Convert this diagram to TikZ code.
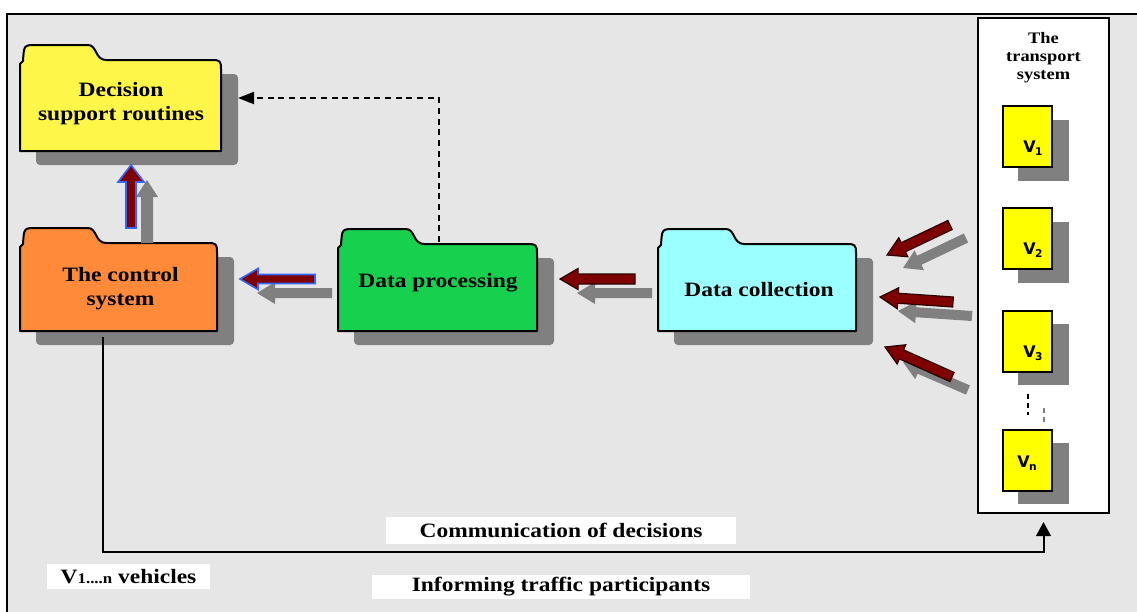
\documentclass[tikz,border=0pt]{standalone}
\usepackage{fontspec}
\usetikzlibrary{calc,arrows.meta}
\newfontfamily\lbl{Liberation Serif}[FakeStretch=1.15]
\newfontfamily\vfont{DejaVu Sans}
\definecolor{bgc}{HTML}{E6E6E6}
\definecolor{shd}{HTML}{808080}
\definecolor{ared}{HTML}{7F0000}
\definecolor{ablue}{HTML}{3366FF}
\definecolor{adark}{HTML}{2A0000}
\definecolor{vyel}{HTML}{FFFF00}
\definecolor{fin}{HTML}{FFFFFF}
\definecolor{fout}{HTML}{FFFFFF}
\pgfdeclareradialshading[fin,fout]{foldshade}{\pgfpoint{0bp}{0bp}}{color(0bp)=(fin); color(33bp)=(fin); color(50bp)=(fout); color(80bp)=(fout)}
\newcommand\pxl[1]{#1*0.75pt}
% folder drawn around an (invisible) body node
\newcommand\folder[3]{%
  \fill[shd, rounded corners=3pt] ($(#1.north west)+(16,14)$) rectangle ($(#1.south east)+(17,14)$);
  \definecolor{fin}{HTML}{#2}\definecolor{fout}{HTML}{#3}%
  \shadedraw[shading=foldshade, line width=1.5pt, line join=round]
    (#1.south west) -- ($(#1.north west)+(0,4)$) -- ($(#1.north west)+(3,1)$)
    .. controls ($(#1.north west)+(4,-15)$) .. ($(#1.north west)+(16,-15)$)
    -- ($(#1.north west)+(68,-15)$)
    .. controls ($(#1.north west)+(77,-15)$) and ($(#1.north west)+(75,0)$) .. ($(#1.north west)+(86,0)$)
    -- ($(#1.north east)+(-9,0)$)
    .. controls ($(#1.north east)+(-1,0)$) and ($(#1.north east)+(0,1)$) .. ($(#1.north east)+(0,9)$)
    -- (#1.south east) -- cycle;
}
% block arrow: #1 style, #2 tail, #3 tip, #4 shaft half, #5 head half, #6 head length (px)
\newcommand\blockarrow[6]{%
  \path[#1] let \p1=(#2), \p2=(#3), \n1={atan2(\y2-\y1,\x2-\x1)}, \n2={veclen(\x2-\x1,\y2-\y1)} in
    [shift={(\p1)}, rotate=\n1]
    (0pt,{-#4*0.75pt}) -- ({\n2*1pt-#6*0.75pt},{-#4*0.75pt}) -- ({\n2*1pt-#6*0.75pt},{-#5*0.75pt})
    -- ({\n2*1pt},0pt) -- ({\n2*1pt-#6*0.75pt},{#5*0.75pt}) -- ({\n2*1pt-#6*0.75pt},{#4*0.75pt})
    -- (0pt,{#4*0.75pt}) -- cycle;
}
\newcommand\vsub[1]{\kern-0.5pt\raisebox{-0.2em}{\fontsize{8}{9}\selectfont #1}}
\tikzset{
  fbody/.style={inner sep=0pt, outer sep=0pt},
  ftxt/.style={font=\lbl\bfseries\fontsize{15.3}{18}\selectfont, align=center, inner sep=0pt},
  lbox/.style={fill=white, inner sep=0pt, font=\lbl\bfseries\fontsize{15.3}{18}\selectfont},
  vbox/.style={draw, line width=1.5pt, fill=vyel, inner sep=0pt, minimum width=\pxl{49}, minimum height=\pxl{61}},
  vtxt/.style={font=\vfont\bfseries\fontsize{12}{14}\selectfont, inner sep=0pt},
  redblue/.style={fill=ared, draw=ablue, line width=1.2pt, line join=miter},
  reddark/.style={fill=ared, draw=adark, line width=0.9pt, line join=miter},
  grayarr/.style={fill=shd},
}
\begin{document}
\begin{tikzpicture}[x=0.75pt,y=-0.75pt]
\useasboundingbox (0,0) rectangle (1137,611);
\fill[white] (0,0) rectangle (1137,611);
\begin{scope}
  \clip (0,0) rectangle (1137,611);
  \draw[line width=1.5pt, fill=bgc] (7,14) rectangle (1170,640);
\end{scope}

% folder bodies
\node[fbody, minimum width=\pxl{201}, minimum height=\pxl{91}] (dsr) at (120.5,105.5) {};
\node[fbody, minimum width=\pxl{197}, minimum height=\pxl{88}] (ctrl) at (118.5,287) {};
\node[fbody, minimum width=\pxl{199}, minimum height=\pxl{87}] (dp) at (437.5,287.5) {};
\node[fbody, minimum width=\pxl{198}, minimum height=\pxl{87}] (dc) at (757,287.5) {};

\folder{dsr}{FFF64A}{FFFF00}
\folder{ctrl}{FF8A3A}{FF7414}
\folder{dp}{16D04E}{00FF00}
\folder{dc}{9CFFFF}{00FFFF}

\node[ftxt] (dsrt) at (121,104) {Decision\\support routines};
\node[ftxt] (ctrlt) at (120.5,289) {The control\\system};
\node[ftxt] (dpt) at (438,283) {Data processing};
\node[ftxt] (dct) at (759,290) {Data collection};

% transport system
\node[draw, line width=1.5pt, fill=white, inner sep=0pt, minimum width=\pxl{131}, minimum height=\pxl{495}] (ts) at (1043.5,265.5) {};
\node[font=\lbl\bfseries\fontsize{12}{13.5}\selectfont, align=center, inner sep=0pt] (tst) at (1043.5,58) {The\\transport\\system};

\foreach \n/\yc in {v1/136.5, v2/238.5, v3/341, vn/460}{
  \fill[shd] (1018,\yc-31+14) rectangle (1069,\yc+30+14);
}
\node[vbox] (v1) at (1027.5,136.5) {};
\node[vbox] (v2) at (1027.5,238.5) {};
\node[vbox] (v3) at (1027.5,341) {};
\node[vbox] (vn) at (1027.5,460) {};
\node[vtxt] (v1t) at (1033,148) {V\vsub{1}};
\node[vtxt] (v2t) at (1033,250) {V\vsub{2}};
\node[vtxt] (v3t) at (1033,353) {V\vsub{3}};
\node[vtxt] (vnt) at (1027,463) {V\vsub{n}};
\draw[line width=1.5pt, dash pattern=on 4pt off 3pt] ($(v3.south)+(0,21)$) -- ($(vn.north)+(0,-14)$);
\draw[shd, line width=1.5pt, dash pattern=on 4pt off 3pt] ($(v3.south)+(16,35)$) -- ($(vn.north)+(16,-4)$);

% block arrows (shadow first, then red)
\coordinate (a1s) at (147,243); \coordinate (a1e) at (147,180);
\coordinate (r1s) at (131,228); \coordinate (r1e) at (131,165);
\blockarrow{grayarr}{a1s}{a1e}{6}{11}{17}
\blockarrow{redblue}{r1s}{r1e}{5}{13}{17}

\coordinate (a2s) at (332,293); \coordinate (a2e) at (257,293);
\coordinate (r2s) at (315,279); \coordinate (r2e) at (240,279);
\blockarrow{grayarr}{a2s}{a2e}{5}{11}{18}
\blockarrow{redblue}{r2s}{r2e}{4.5}{10.5}{18}

\coordinate (a3s) at (652,293); \coordinate (a3e) at (577,293);
\coordinate (r3s) at (635,279); \coordinate (r3e) at (560,279);
\blockarrow{grayarr}{a3s}{a3e}{5}{11}{18}
\blockarrow{reddark}{r3s}{r3e}{5}{10.5}{18}

\coordinate (a4s) at (966,238); \coordinate (a4e) at (903,268);
\coordinate (r4s) at (950,225); \coordinate (r4e) at (887,255);
\blockarrow{grayarr}{a4s}{a4e}{5}{11}{18}
\blockarrow{reddark}{r4s}{r4e}{5}{10.5}{18}

\coordinate (a5s) at (972,316); \coordinate (a5e) at (898,311);
\coordinate (r5s) at (953,302); \coordinate (r5e) at (880,297);
\blockarrow{grayarr}{a5s}{a5e}{5}{11}{18}
\blockarrow{reddark}{r5s}{r5e}{5}{10.5}{18}

\coordinate (a6s) at (968,390); \coordinate (a6e) at (903,362);
\coordinate (r6s) at (952,377); \coordinate (r6e) at (885,347);
\blockarrow{grayarr}{a6s}{a6e}{5}{11}{18}
\blockarrow{reddark}{r6s}{r6e}{5}{10.5}{18}

% dashed feedback connector
\coordinate (dsrin) at (238,98);
\draw[line width=1.5pt, dash pattern=on 4.5pt off 3.5pt, -{Triangle[length=12pt,width=9pt]}]
  ($(dp.north)+(1.5,-2)$) |- (dsrin);

% communication line
\coordinate (cs) at ($(ctrl.south west)+(83,6)$);
\draw[line width=1.5pt, -{Triangle[length=10.5pt,width=11pt]}]
  (cs) |- ($(ts.south)+(0,38)$) -- ($(ts.south)+(0,8)$);

% bottom labels
\node[lbox, minimum width=\pxl{350}, minimum height=\pxl{27}] (comm) at (561,530.5) {Communication of decisions};
\node[lbox, minimum width=\pxl{378}, minimum height=\pxl{24}] (info) at (561,587) {Informing traffic participants};
\node[lbox, minimum width=\pxl{163}, minimum height=\pxl{25}] (veh) at (128.5,576.5) {V{\fontsize{11}{12}\selectfont 1....n} vehicles};
\end{tikzpicture}
\end{document}
